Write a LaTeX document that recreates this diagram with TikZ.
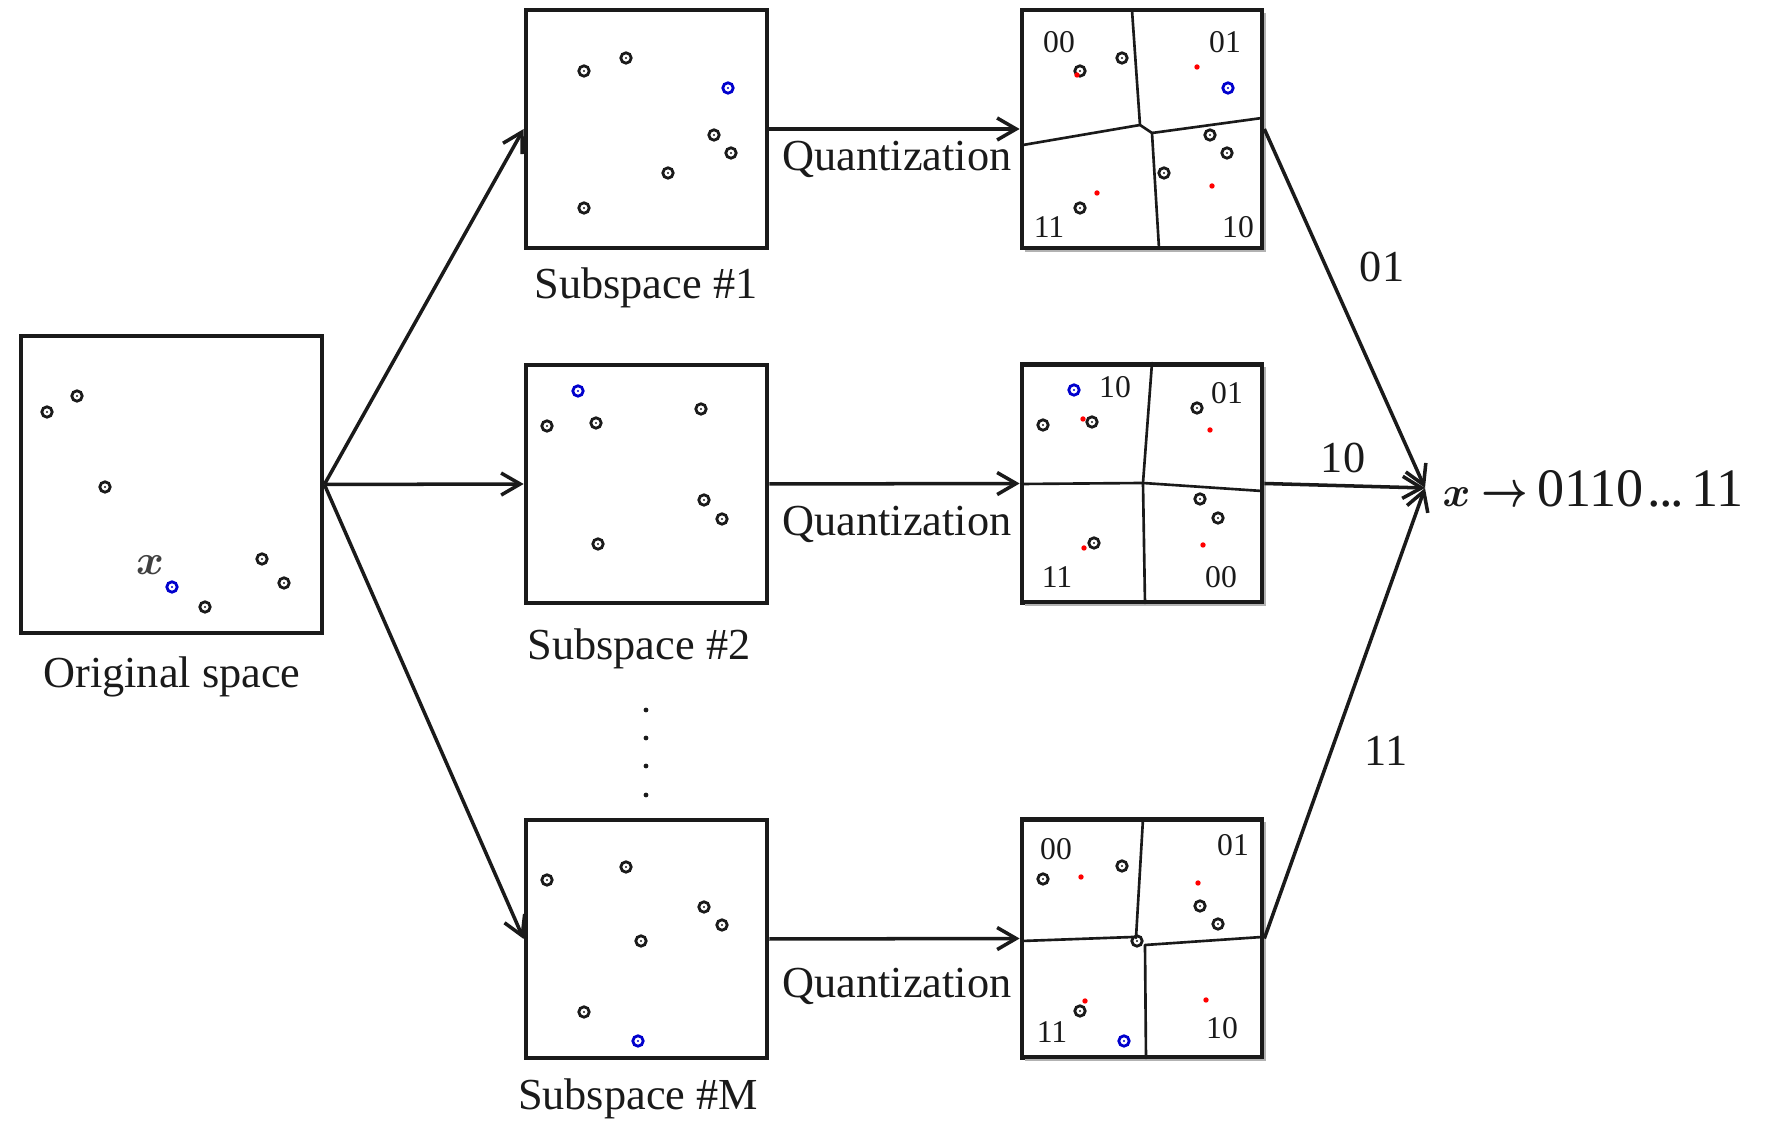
\documentclass[tikz,border=0pt]{standalone}
\usepackage{amsmath}
\usepackage{graphicx}
\usepackage{fontspec}
\setmainfont{Liberation Serif}
\usetikzlibrary{arrows.meta}
\definecolor{ptblue}{RGB}{0,0,205}
\definecolor{ink}{RGB}{26,26,26}
\begin{document}
\begin{tikzpicture}[x=0.01cm,y=-0.01cm,
  panel/.style={draw=ink, line width=1.3pt, inner sep=0pt, minimum width=2.41cm, minimum height=2.38cm},
  qpanel/.style={panel, minimum width=2.40cm},
  arr/.style={draw=ink, line width=1pt, -{Straight Barb[length=0.19cm,width=0.22cm,line width=1pt]}},
  cell/.style={draw=ink, line width=0.75pt, line cap=round, line join=round},
  shade/.style={draw=black!30, line width=0.7pt},
  lbl/.style={font=\fontsize{12.6}{15}\selectfont, inner sep=0pt, text=ink},
  cellnum/.style={font=\fontsize{9}{11}\selectfont, inner sep=0pt, text=ink},
  pics/dpt/.style={code={\draw[line width=0.8pt,#1] (0,0) circle[radius=0.052cm];
                          \fill[#1] (0,0) circle[radius=0.012cm];}},
  pics/ctr/.style={code={\fill[red] (0,0) circle[radius=0.027cm];}}
]
\useasboundingbox (0,0) rectangle (1765,1128);

% ---------- panels ----------
\node[panel, minimum width=3.01cm, minimum height=2.97cm] (orig) at (171.5,484.5) {};
\node[panel] (s1) at (646.5,129) {};
\node[panel] (s2) at (646.5,484) {};
\node[panel] (sm) at (646.5,939) {};
\node[qpanel] (q1) at (1142,129) {};
\node[qpanel] (q2) at (1142,483.5) {};
\node[qpanel] (q3) at (1142,938.5) {};

% light shadow along the right and bottom of the quantized panels
\foreach \t in {10,364,819}{
  \draw[shade] (1265,\t+3) -- (1265,\t+241) -- (1025,\t+241);
}

% ---------- original space ----------
\foreach \p in {(47,412),(77,396),(105,487),(205,607),(262,559),(284,583)}
  \pic at \p {dpt=ink};
\pic at (172,587) {dpt=ptblue};
\node[lbl, text=black!75] (xpt) at (150,565) {$\boldsymbol{x}$};

% ---------- subspace #1 and its quantization ----------
\foreach \ox in {526,1022}{
  \begin{scope}[shift={(\ox,10)}]
    \foreach \p in {(58,61),(100,48),(188,125),(205,143),(142,163),(58,198)}
      \pic at \p {dpt=ink};
  \end{scope}
}
\pic at (728,88) {dpt=ptblue};
\pic at (1228,88) {dpt=ptblue};
\begin{scope}[shift={(1022,10)}]
  \foreach \p in {(55,65),(175,57),(190,176),(75,183)} \pic at \p {ctr};
\end{scope}
\draw[cell] (1132,10) -- (1140,125) -- (1152,133) -- (1159,248);
\draw[cell] (1023,145) -- (1140,125);
\draw[cell] (1152,133) -- (1262,118);
\node[cellnum] (c1a) at (1059,42) {00};
\node[cellnum] (c1b) at (1225,42) {01};
\node[cellnum] (c1c) at (1049,227) {11};
\node[cellnum] (c1d) at (1238,227) {10};

% ---------- subspace #2 and its quantization ----------
\foreach \ox/\oy in {526/365,1022/364}{
  \begin{scope}[shift={(\ox,\oy)}]
    \foreach \p in {(21,61),(70,58),(175,44),(178,135),(196,154),(72,179)}
      \pic at \p {dpt=ink};
    \pic at (52,26) {dpt=ptblue};
  \end{scope}
}
\begin{scope}[shift={(1022,364)}]
  \foreach \p in {(61,55),(188,66),(181,181),(62,184)} \pic at \p {ctr};
\end{scope}
\draw[cell] (1152,363) -- (1143,483) -- (1145,603);
\draw[cell] (1022,484) -- (1143,483) -- (1262,491);
\node[cellnum] (c2a) at (1115,387) {10};
\node[cellnum] (c2b) at (1227,393) {01};
\node[cellnum] (c2c) at (1057,577) {11};
\node[cellnum] (c2d) at (1221,577) {00};

% ---------- subspace #M and its quantization ----------
\foreach \ox/\oy in {526/820,1022/819}{
  \begin{scope}[shift={(\ox,\oy)}]
    \foreach \p in {(21,60),(100,47),(178,87),(196,105),(58,192)}
      \pic at \p {dpt=ink};
  \end{scope}
}
\pic at (641,941) {dpt=ink};
\pic at (638,1041) {dpt=ptblue};
\pic at (1124,1041) {dpt=ptblue};
\begin{scope}[shift={(1022,819)}]
  \foreach \p in {(59,58),(176,64),(63,182),(184,181)} \pic at \p {ctr};
\end{scope}
\draw[cell] (1143,819) -- (1136,938);
\draw[cell] (1022,941) -- (1133,937);
\draw[cell] (1262,937) -- (1145,945) -- (1146,1058);
\pic at (1137,941) {dpt=ink};
\node[cellnum] (c3a) at (1056,849) {00};
\node[cellnum] (c3b) at (1233,845) {01};
\node[cellnum] (c3c) at (1052,1032) {11};
\node[cellnum] (c3d) at (1222,1028) {10};

% ---------- captions ----------
\node[lbl, anchor=base] (origcap) at (172,688) {Original space};
\node[lbl, anchor=base] (s1cap) at (646,299) {Subspace \#1};
\node[lbl, anchor=base] (s2cap) at (639,660) {Subspace \#2};
\node[lbl, anchor=base] (smcap) at (638,1110) {Subspace \#M};
\node[lbl, anchor=base] (qcap1) at (897,171) {Quantization};
\node[lbl, anchor=base] (qcap2) at (897,536) {Quantization};
\node[lbl, anchor=base] (qcap3) at (897,998) {Quantization};

% vertical ellipsis between subspace #2 and #M
\foreach \y in {710,738,766,795} \fill[ink] (646,\y) circle[radius=0.024cm];

% ---------- connectors ----------
\draw[arr] (orig.east) -- (s1.west);
\draw[arr] (orig.east) -- (s2.west);
\draw[arr] (orig.east) -- (sm.west);
\draw[arr] (s1.east) -- (q1.west);
\draw[arr] (s2.east) -- (q2.west);
\draw[arr] (sm.east) -- (q3.west);

% resulting code of x
\node[anchor=west, inner sep=0pt, text=ink, font=\fontsize{15.4}{18}\selectfont]
  (code) at (1425,489) {\hspace{0.17cm}{\fontsize{13}{15}\selectfont$\boldsymbol{x}$}%
  \hspace{0.15cm}\makebox[0.39cm]{\scalebox{0.8}[1]{\fontsize{14}{16}\selectfont$\boldsymbol{\rightarrow}$}}%
  \hspace{0.13cm}0110\hspace{0.04cm}\makebox[0.36cm]{.\kern-0.6pt.\kern-0.6pt.}%
  \hspace{0.08cm}11};
\coordinate (join) at (1425,488);
\draw[arr] (q1.east) -- (join);
\draw[arr] (q2.east) -- (join);
\draw[arr] (q3.east) -- (join);

\node[lbl] (b1) at (1382,267) {01};
\node[lbl] (b2) at (1343,458) {10};
\node[lbl] (b3) at (1386,751) {11};
\end{tikzpicture}
\end{document}
